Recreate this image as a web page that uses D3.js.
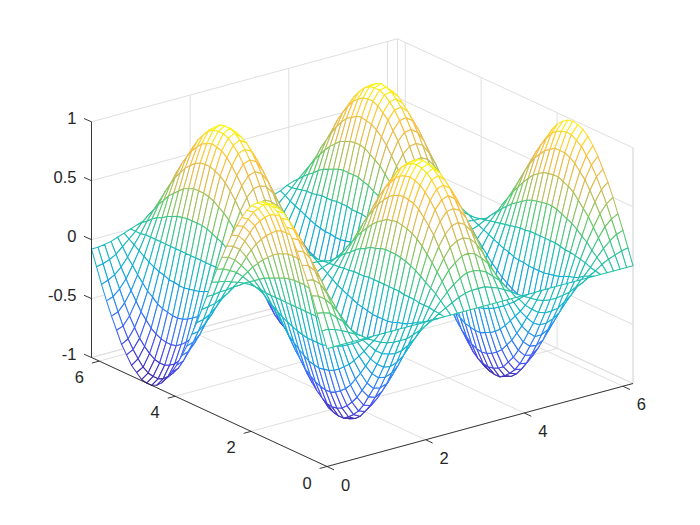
<!DOCTYPE html>
<html><head><meta charset="utf-8">
<script src="https://cdn.jsdelivr.net/npm/d3@7/dist/d3.min.js"></script>
<style>html,body{margin:0;padding:0;background:#fff}svg{display:block}text{font-family:"Liberation Sans",Arial,sans-serif;font-size:16.5px;fill:#262626}</style>
</head><body><div id="chart"></div>
<script>
const xValues=[0,.132,.264,.396,.528,.66,.792,.924,1.056,1.188,1.32,1.452,1.584,1.716,1.848,1.98,2.112,2.244,2.376,2.508,2.64,2.772,2.904,3.036,3.168,3.3,3.432,3.564,3.696,3.828,3.96,4.092,4.224,4.356,4.488,4.62,4.752,4.884,5.016,5.148,5.28,5.412,5.544,5.676,5.808,5.94,6.072,6.204];
const yValues=[0,.132,.264,.396,.528,.66,.792,.924,1.056,1.188,1.32,1.452,1.584,1.716,1.848,1.98,2.112,2.244,2.376,2.508,2.64,2.772,2.904,3.036,3.168,3.3,3.432,3.564,3.696,3.828,3.96,4.092,4.224,4.356,4.488,4.62,4.752,4.884,5.016,5.148,5.28,5.412,5.544,5.676,5.808,5.94,6.072,6.204];
const xTicks=[0,2,4,6];
const yTicks=[0,2,4,6];
const zTicks=[-1,-0.5,0,0.5,1];
const zValues=[
[0,0,0,0,0,0,0,0,0,0,0,0,0,0,0,0,0,0,0,0,0,0,0,0,0,0,0,0,0,0,0,0,0,0,0,0,0,0,0,0,0,0,0,0,0,0,0,0],
[.13,.13,.11,.09,.06,.03,0,-.04,-.07,-.1,-.12,-.13,-.13,-.13,-.11,-.09,-.06,-.03,.01,.04,.07,.1,.12,.13,.13,.13,.11,.09,.06,.03,-.01,-.04,-.07,-.1,-.12,-.13,-.13,-.12,-.11,-.08,-.06,-.02,.01,.05,.08,.1,.12,.13],
[.26,.25,.23,.18,.13,.06,0,-.07,-.13,-.19,-.23,-.25,-.26,-.25,-.22,-.18,-.12,-.06,.01,.08,.14,.19,.23,.26,.26,.25,.22,.17,.12,.05,-.02,-.08,-.15,-.2,-.24,-.26,-.26,-.25,-.21,-.17,-.11,-.04,.02,.09,.15,.2,.24,.26],
[.39,.37,.33,.27,.19,.1,-.01,-.11,-.2,-.28,-.34,-.38,-.39,-.37,-.33,-.26,-.18,-.09,.02,.12,.21,.29,.34,.38,.39,.37,.32,.26,.17,.08,-.03,-.13,-.22,-.29,-.35,-.38,-.38,-.36,-.32,-.25,-.16,-.07,.04,.13,.22,.3,.35,.38],
[.5,.49,.44,.35,.25,.12,-.01,-.14,-.26,-.36,-.44,-.49,-.5,-.48,-.43,-.34,-.24,-.11,.02,.15,.27,.37,.45,.49,.5,.48,.42,.33,.22,.1,-.03,-.16,-.28,-.38,-.45,-.5,-.5,-.47,-.41,-.32,-.21,-.09,.05,.18,.29,.39,.46,.5],
[.61,.59,.53,.43,.3,.15,-.01,-.17,-.32,-.44,-.54,-.6,-.61,-.59,-.52,-.42,-.29,-.14,.02,.18,.33,.45,.54,.6,.61,.58,.51,.41,.27,.12,-.04,-.2,-.34,-.46,-.55,-.6,-.61,-.58,-.5,-.39,-.26,-.1,.06,.21,.36,.47,.56,.61],
[.71,.69,.62,.5,.35,.18,-.01,-.2,-.37,-.51,-.62,-.69,-.71,-.68,-.61,-.49,-.33,-.16,.03,.21,.38,.53,.63,.7,.71,.68,.6,.47,.32,.14,-.05,-.23,-.4,-.54,-.64,-.7,-.71,-.67,-.58,-.46,-.3,-.12,.07,.25,.41,.55,.65,.7],
[.8,.77,.69,.56,.39,.2,-.01,-.22,-.41,-.58,-.7,-.78,-.8,-.76,-.68,-.55,-.37,-.18,.03,.24,.43,.59,.71,.78,.8,.76,.67,.53,.36,.16,-.05,-.26,-.45,-.6,-.72,-.79,-.8,-.75,-.66,-.51,-.34,-.14,.07,.28,.46,.62,.73,.79],
[.87,.84,.75,.61,.43,.22,-.01,-.24,-.45,-.63,-.76,-.85,-.87,-.83,-.74,-.6,-.41,-.19,.03,.26,.47,.64,.77,.85,.87,.83,.73,.58,.39,.17,-.06,-.28,-.49,-.66,-.78,-.86,-.87,-.82,-.71,-.56,-.37,-.15,.08,.3,.51,.67,.79,.86],
[.93,.9,.8,.65,.46,.23,-.01,-.25,-.48,-.67,-.81,-.9,-.93,-.89,-.79,-.63,-.44,-.21,.04,.28,.5,.69,.82,.91,.93,.88,.78,.62,.41,.18,-.06,-.3,-.52,-.7,-.84,-.91,-.93,-.87,-.76,-.6,-.39,-.16,.09,.32,.54,.72,.85,.92],
[.97,.94,.84,.68,.48,.24,-.01,-.27,-.5,-.7,-.85,-.94,-.97,-.93,-.82,-.66,-.45,-.22,.04,.29,.52,.72,.86,.95,.97,.92,.81,.64,.43,.19,-.06,-.31,-.54,-.73,-.87,-.95,-.97,-.91,-.8,-.62,-.41,-.17,.09,.34,.56,.75,.88,.96],
[.99,.96,.86,.7,.49,.25,-.01,-.27,-.51,-.72,-.87,-.97,-.99,-.95,-.84,-.68,-.47,-.22,.04,.3,.53,.73,.88,.97,.99,.94,.83,.66,.44,.2,-.07,-.32,-.56,-.75,-.89,-.98,-.99,-.93,-.82,-.64,-.42,-.17,.09,.35,.58,.77,.91,.98],
[1,.97,.86,.7,.49,.25,-.01,-.27,-.52,-.72,-.88,-.97,-1,-.96,-.85,-.68,-.47,-.22,.04,.3,.54,.74,.89,.98,1,.95,.84,.66,.45,.2,-.07,-.32,-.56,-.76,-.9,-.98,-1,-.94,-.82,-.64,-.42,-.17,.09,.35,.58,.77,.91,.99],
[.99,.95,.85,.7,.49,.25,-.01,-.27,-.51,-.71,-.87,-.96,-.99,-.95,-.84,-.68,-.46,-.22,.04,.3,.53,.73,.88,.97,.99,.94,.83,.66,.44,.19,-.07,-.32,-.55,-.75,-.89,-.97,-.99,-.93,-.81,-.64,-.42,-.17,.09,.34,.57,.77,.9,.98],
[.96,.93,.83,.68,.47,.24,-.01,-.26,-.5,-.69,-.84,-.94,-.96,-.92,-.82,-.66,-.45,-.21,.04,.29,.52,.71,.86,.94,.96,.91,.8,.64,.43,.19,-.06,-.31,-.54,-.73,-.87,-.95,-.96,-.91,-.79,-.62,-.41,-.16,.09,.33,.56,.74,.88,.95],
[.92,.88,.79,.64,.45,.23,-.01,-.25,-.47,-.66,-.8,-.89,-.92,-.88,-.78,-.63,-.43,-.2,.04,.27,.49,.68,.82,.9,.92,.87,.77,.61,.41,.18,-.06,-.3,-.51,-.69,-.83,-.9,-.91,-.86,-.75,-.59,-.39,-.16,.08,.32,.53,.71,.84,.91],
[.86,.83,.74,.6,.42,.21,-.01,-.23,-.44,-.62,-.75,-.83,-.86,-.82,-.73,-.59,-.4,-.19,.03,.26,.46,.63,.76,.84,.86,.81,.72,.57,.38,.17,-.06,-.28,-.48,-.65,-.77,-.84,-.85,-.81,-.7,-.55,-.36,-.15,.08,.3,.5,.66,.78,.85],
[.78,.75,.68,.55,.38,.19,-.01,-.21,-.4,-.56,-.69,-.76,-.78,-.75,-.66,-.53,-.37,-.17,.03,.23,.42,.58,.7,.76,.78,.74,.65,.52,.35,.15,-.05,-.25,-.44,-.59,-.7,-.77,-.78,-.74,-.64,-.5,-.33,-.13,.07,.27,.45,.61,.71,.77],
[.69,.67,.6,.49,.34,.17,-.01,-.19,-.36,-.5,-.61,-.67,-.69,-.66,-.59,-.47,-.33,-.15,.03,.21,.37,.51,.62,.68,.69,.66,.58,.46,.31,.14,-.05,-.22,-.39,-.52,-.62,-.68,-.69,-.65,-.57,-.45,-.29,-.12,.06,.24,.4,.54,.63,.68],
[.59,.57,.51,.42,.29,.15,-.01,-.16,-.3,-.43,-.52,-.58,-.59,-.57,-.5,-.4,-.28,-.13,.02,.18,.32,.44,.53,.58,.59,.56,.49,.39,.26,.12,-.04,-.19,-.33,-.45,-.53,-.58,-.59,-.56,-.49,-.38,-.25,-.1,.05,.21,.34,.46,.54,.58],
[.48,.46,.42,.34,.24,.12,-.01,-.13,-.25,-.35,-.42,-.47,-.48,-.46,-.41,-.33,-.23,-.11,.02,.14,.26,.36,.43,.47,.48,.46,.4,.32,.21,.09,-.03,-.16,-.27,-.36,-.43,-.47,-.48,-.45,-.39,-.31,-.2,-.08,.04,.17,.28,.37,.44,.48],
[.36,.35,.31,.25,.18,.09,0,-.1,-.19,-.26,-.32,-.35,-.36,-.35,-.31,-.25,-.17,-.08,.01,.11,.19,.27,.32,.35,.36,.34,.3,.24,.16,.07,-.02,-.12,-.2,-.27,-.33,-.36,-.36,-.34,-.3,-.23,-.15,-.06,.03,.13,.21,.28,.33,.36],
[.24,.23,.2,.17,.12,.06,0,-.06,-.12,-.17,-.21,-.23,-.24,-.23,-.2,-.16,-.11,-.05,.01,.07,.13,.17,.21,.23,.23,.22,.2,.16,.1,.05,-.02,-.08,-.13,-.18,-.21,-.23,-.23,-.22,-.19,-.15,-.1,-.04,.02,.08,.14,.18,.21,.23],
[.11,.1,.09,.07,.05,.03,0,-.03,-.05,-.08,-.09,-.1,-.11,-.1,-.09,-.07,-.05,-.02,0,.03,.06,.08,.09,.1,.1,.1,.09,.07,.05,.02,-.01,-.03,-.06,-.08,-.09,-.1,-.1,-.1,-.09,-.07,-.04,-.02,.01,.04,.06,.08,.1,.1],
[-.03,-.03,-.02,-.02,-.01,-.01,0,.01,.01,.02,.02,.03,.03,.03,.02,.02,.01,.01,0,-.01,-.01,-.02,-.02,-.03,-.03,-.03,-.02,-.02,-.01,-.01,0,.01,.02,.02,.02,.03,.03,.03,.02,.02,.01,0,0,-.01,-.02,-.02,-.02,-.03],
[-.16,-.15,-.14,-.11,-.08,-.04,0,.04,.08,.11,.14,.15,.16,.15,.13,.11,.07,.04,-.01,-.05,-.09,-.12,-.14,-.15,-.16,-.15,-.13,-.1,-.07,-.03,.01,.05,.09,.12,.14,.16,.16,.15,.13,.1,.07,.03,-.01,-.05,-.09,-.12,-.14,-.16],
[-.29,-.28,-.25,-.2,-.14,-.07,0,.08,.15,.21,.25,.28,.29,.27,.24,.2,.13,.06,-.01,-.09,-.15,-.21,-.26,-.28,-.29,-.27,-.24,-.19,-.13,-.06,.02,.09,.16,.22,.26,.28,.29,.27,.24,.18,.12,.05,-.03,-.1,-.17,-.22,-.26,-.28],
[-.41,-.4,-.35,-.29,-.2,-.1,.01,.11,.21,.3,.36,.4,.41,.39,.35,.28,.19,.09,-.02,-.12,-.22,-.3,-.36,-.4,-.41,-.39,-.34,-.27,-.18,-.08,.03,.13,.23,.31,.37,.4,.41,.39,.34,.26,.17,.07,-.04,-.14,-.24,-.32,-.37,-.41],
[-.53,-.51,-.46,-.37,-.26,-.13,.01,.14,.27,.38,.46,.51,.53,.5,.45,.36,.25,.12,-.02,-.16,-.28,-.39,-.47,-.52,-.53,-.5,-.44,-.35,-.23,-.1,.03,.17,.3,.4,.47,.52,.53,.5,.43,.34,.22,.09,-.05,-.18,-.31,-.41,-.48,-.52],
[-.63,-.61,-.55,-.45,-.31,-.16,.01,.17,.33,.46,.56,.62,.63,.61,.54,.43,.3,.14,-.03,-.19,-.34,-.47,-.56,-.62,-.63,-.6,-.53,-.42,-.28,-.12,.04,.21,.36,.48,.57,.62,.63,.6,.52,.41,.27,.11,-.06,-.22,-.37,-.49,-.58,-.63],
[-.73,-.71,-.63,-.51,-.36,-.18,.01,.2,.38,.53,.64,.71,.73,.7,.62,.5,.34,.16,-.03,-.22,-.39,-.54,-.65,-.71,-.73,-.69,-.61,-.49,-.33,-.14,.05,.24,.41,.55,.66,.72,.73,.69,.6,.47,.31,.13,-.07,-.25,-.42,-.57,-.67,-.72],
[-.81,-.79,-.7,-.57,-.4,-.2,.01,.22,.42,.59,.71,.79,.81,.78,.69,.56,.38,.18,-.03,-.24,-.44,-.6,-.72,-.8,-.81,-.77,-.68,-.54,-.36,-.16,.05,.26,.46,.62,.73,.8,.81,.77,.67,.52,.34,.14,-.07,-.28,-.47,-.63,-.74,-.8],
[-.88,-.85,-.76,-.62,-.43,-.22,.01,.24,.45,.64,.77,.86,.88,.85,.75,.6,.41,.2,-.04,-.26,-.48,-.65,-.78,-.86,-.88,-.84,-.74,-.59,-.39,-.17,.06,.29,.49,.67,.8,.87,.88,.83,.72,.57,.37,.15,-.08,-.31,-.51,-.68,-.81,-.87],
[-.94,-.9,-.81,-.66,-.46,-.23,.01,.26,.48,.68,.82,.91,.94,.9,.8,.64,.44,.21,-.04,-.28,-.5,-.69,-.83,-.92,-.94,-.89,-.78,-.62,-.42,-.18,.06,.3,.52,.71,.84,.92,.93,.88,.77,.6,.39,.16,-.09,-.33,-.54,-.73,-.85,-.93],
[-.98,-.94,-.84,-.69,-.48,-.24,.01,.27,.5,.7,.86,.95,.98,.93,.83,.67,.46,.22,-.04,-.29,-.52,-.72,-.87,-.95,-.97,-.93,-.82,-.65,-.43,-.19,.06,.32,.55,.74,.88,.96,.97,.92,.8,.63,.41,.17,-.09,-.34,-.57,-.75,-.89,-.96],
[-1,-.96,-.86,-.7,-.49,-.25,.01,.27,.51,.72,.87,.97,1,.95,.85,.68,.47,.22,-.04,-.3,-.54,-.74,-.89,-.97,-.99,-.95,-.83,-.66,-.44,-.2,.07,.32,.56,.75,.9,.98,.99,.94,.82,.64,.42,.17,-.09,-.35,-.58,-.77,-.91,-.98],
[-1,-.96,-.86,-.7,-.49,-.25,.01,.27,.51,.72,.88,.97,1,.96,.85,.68,.47,.22,-.04,-.3,-.54,-.74,-.89,-.98,-1,-.95,-.84,-.66,-.44,-.2,.07,.32,.56,.76,.9,.98,1,.94,.82,.64,.42,.17,-.09,-.35,-.58,-.77,-.91,-.99],
[-.99,-.95,-.85,-.69,-.48,-.24,.01,.27,.51,.71,.86,.96,.99,.94,.84,.67,.46,.22,-.04,-.29,-.53,-.73,-.88,-.96,-.98,-.94,-.82,-.65,-.44,-.19,.07,.32,.55,.75,.89,.97,.98,.93,.81,.63,.41,.17,-.09,-.34,-.57,-.76,-.9,-.97],
[-.95,-.92,-.82,-.67,-.47,-.24,.01,.26,.49,.69,.84,.93,.95,.91,.81,.65,.45,.21,-.04,-.29,-.51,-.71,-.85,-.93,-.95,-.91,-.8,-.63,-.42,-.19,.06,.31,.53,.72,.86,.94,.95,.9,.78,.61,.4,.16,-.09,-.33,-.55,-.74,-.87,-.94],
[-.91,-.87,-.78,-.64,-.45,-.22,.01,.25,.47,.65,.79,.88,.91,.87,.77,.62,.42,.2,-.04,-.27,-.49,-.67,-.81,-.89,-.91,-.86,-.76,-.6,-.4,-.18,.06,.29,.51,.69,.82,.89,.9,.85,.74,.58,.38,.15,-.08,-.32,-.53,-.7,-.83,-.9],
[-.84,-.81,-.73,-.59,-.41,-.21,.01,.23,.43,.61,.74,.82,.84,.81,.72,.58,.4,.19,-.03,-.25,-.45,-.62,-.75,-.82,-.84,-.8,-.7,-.56,-.38,-.17,.06,.27,.47,.64,.76,.83,.84,.79,.69,.54,.35,.14,-.08,-.29,-.49,-.65,-.77,-.83],
[-.77,-.74,-.66,-.54,-.38,-.19,.01,.21,.39,.55,.67,.74,.77,.73,.65,.52,.36,.17,-.03,-.23,-.41,-.57,-.68,-.75,-.76,-.73,-.64,-.51,-.34,-.15,.05,.25,.43,.58,.69,.75,.76,.72,.63,.49,.32,.13,-.07,-.27,-.44,-.59,-.7,-.76],
[-.67,-.65,-.58,-.47,-.33,-.17,.01,.18,.35,.49,.59,.65,.67,.64,.57,.46,.32,.15,-.03,-.2,-.36,-.5,-.6,-.66,-.67,-.64,-.56,-.45,-.3,-.13,.04,.22,.38,.51,.61,.66,.67,.63,.55,.43,.28,.12,-.06,-.23,-.39,-.52,-.61,-.66],
[-.57,-.55,-.49,-.4,-.28,-.14,.01,.16,.29,.41,.5,.55,.57,.55,.48,.39,.27,.13,-.02,-.17,-.31,-.42,-.51,-.56,-.57,-.54,-.48,-.38,-.25,-.11,.04,.18,.32,.43,.51,.56,.57,.54,.47,.37,.24,.1,-.05,-.2,-.33,-.44,-.52,-.56],
[-.46,-.44,-.39,-.32,-.22,-.11,.01,.13,.24,.33,.4,.44,.46,.44,.39,.31,.21,.1,-.02,-.14,-.25,-.34,-.41,-.45,-.46,-.43,-.38,-.3,-.2,-.09,.03,.15,.26,.35,.41,.45,.46,.43,.38,.29,.19,.08,-.04,-.16,-.27,-.35,-.42,-.45],
[-.34,-.32,-.29,-.24,-.17,-.08,0,.09,.17,.24,.29,.33,.34,.32,.29,.23,.16,.07,-.01,-.1,-.18,-.25,-.3,-.33,-.34,-.32,-.28,-.22,-.15,-.07,.02,.11,.19,.25,.3,.33,.33,.32,.28,.22,.14,.06,-.03,-.12,-.2,-.26,-.31,-.33],
[-.21,-.2,-.18,-.15,-.1,-.05,0,.06,.11,.15,.18,.2,.21,.2,.18,.14,.1,.05,-.01,-.06,-.11,-.15,-.19,-.2,-.21,-.2,-.17,-.14,-.09,-.04,.01,.07,.12,.16,.19,.21,.21,.2,.17,.13,.09,.04,-.02,-.07,-.12,-.16,-.19,-.21],
[-.08,-.08,-.07,-.06,-.04,-.02,0,.02,.04,.06,.07,.08,.08,.08,.07,.05,.04,.02,0,-.02,-.04,-.06,-.07,-.08,-.08,-.08,-.07,-.05,-.04,-.02,.01,.03,.04,.06,.07,.08,.08,.07,.06,.05,.03,.01,-.01,-.03,-.05,-.06,-.07,-.08]
];
const parulaStops=["#3e26a8","#4752f4","#2d87f7","#12b1d6","#20bfb0","#5fca6a","#d1bb59","#fdbd3d","#f9fb15"];

const W=700,H=525;
const svg=d3.select("#chart").append("svg").attr("width",W).attr("height",H);

// Box geometry of the projected axes (screen pixels)
const origin=[327,466.5], U=[306,-83], V=[-235.5,-109], Wz=235.7;
const xMax=xValues[xValues.length-1], yMax=yValues[yValues.length-1];
const u=d3.scaleLinear().domain([0,xMax]).range([0,1]);
const v=d3.scaleLinear().domain([0,yMax]).range([0,1]);
const w=d3.scaleLinear().domain([-1,1]).range([0,1]);
const color=d3.scaleLinear().domain(d3.range(parulaStops.length).map(k=>-1+2*k/(parulaStops.length-1))).range(parulaStops);
function P(x,y,z){
  return [origin[0]+U[0]*u(x)+V[0]*v(y), origin[1]+U[1]*u(x)+V[1]*v(y)-Wz*w(z)];
}
const gridG=svg.append("g").attr("fill","none").attr("stroke","#dfdfdf").attr("stroke-width",1);
function seg(g,a,b){g.append("line").attr("x1",a[0]).attr("y1",a[1]).attr("x2",b[0]).attr("y2",b[1]);}
// Floor grid and wall grid
xTicks.forEach(t=>{
  seg(gridG,P(t,0,-1),P(t,yMax,-1));
  seg(gridG,P(t,yMax,-1),P(t,yMax,1));
});
yTicks.forEach(t=>{
  seg(gridG,P(0,t,-1),P(xMax,t,-1));
  seg(gridG,P(xMax,t,-1),P(xMax,t,1));
});
zTicks.forEach(t=>{
  seg(gridG,P(0,yMax,t),P(xMax,yMax,t));
  seg(gridG,P(xMax,yMax,t),P(xMax,0,t));
});
seg(gridG,P(xMax,0,-1),P(xMax,0,1));
seg(gridG,P(xMax,yMax,-1),P(xMax,yMax,1));
seg(gridG,P(xMax,yMax,-1),P(xMax,0,-1));
seg(gridG,P(xMax,yMax,-1),P(0,yMax,-1));

// Mesh cells: back to front
const cells=[];
for(let j=yValues.length-2;j>=0;j--){
  for(let i=xValues.length-2;i>=0;i--){
    cells.push({i,j});
  }
}
svg.append("g").selectAll("polygon").data(cells).join("polygon")
  .attr("points",d=>{
    const {i,j}=d;
    return [[i,j],[i+1,j],[i+1,j+1],[i,j+1]].map(([a,b])=>P(xValues[a],yValues[b],zValues[b][a]).map(n=>n.toFixed(2)).join(",")).join(" ");
  })
  .attr("fill","#fff")
  .attr("stroke",d=>{
    const {i,j}=d;
    return color((zValues[j][i]+zValues[j][i+1]+zValues[j+1][i+1]+zValues[j+1][i])/4);
  })
  .attr("stroke-width",1.05)
  .attr("stroke-linejoin","round");

// Axes
const axG=svg.append("g").attr("stroke","#262626").attr("stroke-width",0.9).attr("fill","none");
seg(axG,P(0,0,-1),P(xMax,0,-1));
seg(axG,P(0,0,-1),P(0,yMax,-1));
seg(axG,P(0,yMax,-1),P(0,yMax,1));
const labG=svg.append("g");
const tx=[7,3.3], ty=[-7.4,2], tz=[-7.5,-3.3];
xTicks.forEach(t=>{
  const p=P(t,0,-1);
  seg(axG,p,[p[0]+tx[0],p[1]+tx[1]]);
  labG.append("text").attr("x",p[0]+18.5).attr("y",p[1]+18).attr("text-anchor","middle").attr("dominant-baseline","central").text(t);
});
yTicks.forEach(t=>{
  const p=P(0,t,-1);
  seg(axG,p,[p[0]+ty[0],p[1]+ty[1]]);
  labG.append("text").attr("x",p[0]-20).attr("y",p[1]+16).attr("text-anchor","middle").attr("dominant-baseline","central").text(t);
});
zTicks.forEach(t=>{
  const p=P(0,yMax,t);
  seg(axG,p,[p[0]+tz[0],p[1]+tz[1]]);
  labG.append("text").attr("x",p[0]-15).attr("y",p[1]-4).attr("text-anchor","end").attr("dominant-baseline","central").text(t);
});
</script></body></html>
